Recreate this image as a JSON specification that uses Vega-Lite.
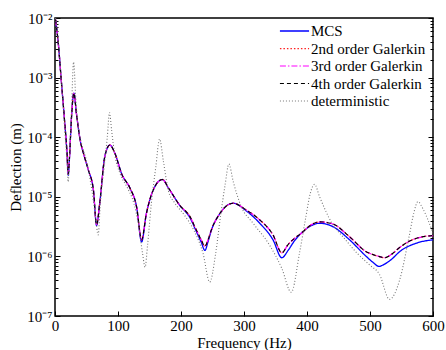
{
  "$schema": "https://vega.github.io/schema/vega-lite/v6.json",
  "width": 378,
  "height": 298,
  "autosize": "none",
  "padding": {"left": 55, "top": 18, "right": 13, "bottom": 34},
  "background": "white",
  "config": {
    "view": {"stroke": "#000", "strokeWidth": 1.5},
    "font": "Liberation Serif",
    "axis": {
      "labelFont": "Liberation Serif", "titleFont": "Liberation Serif",
      "labelFontSize": 15, "titleFontSize": 15, "titleFontWeight": "normal",
      "labelColor": "#000", "titleColor": "#000", "tickColor": "#000",
      "domain": false, "grid": false, "tickSize": -5, "labelFlush": false, "labelOverlap": false
    }
  },
  "resolve": {"axis": {"x": "independent", "y": "independent"}},
  "layer": [
    {
      "data": {"values": [
        {"f":1,"MCS":9.3e-3,"G2":9.3e-3,"G3":9.3e-3,"G4":9.3e-3},
        {"f":5,"MCS":3.98e-3,"G2":3.98e-3,"G3":3.98e-3,"G4":3.98e-3},
        {"f":10,"MCS":8.9e-4,"G2":8.9e-4,"G3":8.9e-4,"G4":8.9e-4},
        {"f":15,"MCS":2.0e-4,"G2":2.0e-4,"G3":2.0e-4,"G4":2.0e-4},
        {"f":19,"MCS":5.6e-5,"G2":5.6e-5,"G3":5.6e-5,"G4":5.6e-5},
        {"f":21,"MCS":2.3e-5,"G2":2.4e-5,"G3":2.4e-5,"G4":2.4e-5},
        {"f":23,"MCS":4.5e-5,"G2":4.5e-5,"G3":4.5e-5,"G4":4.5e-5},
        {"f":26,"MCS":2.0e-4,"G2":2.0e-4,"G3":2.0e-4,"G4":2.0e-4},
        {"f":30,"MCS":5.5e-4,"G2":5.5e-4,"G3":5.5e-4,"G4":5.5e-4},
        {"f":34,"MCS":2.5e-4,"G2":2.5e-4,"G3":2.5e-4,"G4":2.5e-4},
        {"f":40,"MCS":8.9e-5,"G2":8.9e-5,"G3":8.9e-5,"G4":8.9e-5},
        {"f":46,"MCS":5.0e-5,"G2":5.0e-5,"G3":5.0e-5,"G4":5.0e-5},
        {"f":53,"MCS":2.8e-5,"G2":2.8e-5,"G3":2.8e-5,"G4":2.8e-5},
        {"f":61,"MCS":1.29e-5,"G2":1.29e-5,"G3":1.29e-5,"G4":1.29e-5},
        {"f":66,"MCS":3.3e-6,"G2":3.4e-6,"G3":3.4e-6,"G4":3.4e-6},
        {"f":71,"MCS":7.8e-6,"G2":7.8e-6,"G3":7.8e-6,"G4":7.8e-6},
        {"f":79,"MCS":4.7e-5,"G2":4.7e-5,"G3":4.7e-5,"G4":4.7e-5},
        {"f":87,"MCS":7.4e-5,"G2":7.4e-5,"G3":7.4e-5,"G4":7.4e-5},
        {"f":95,"MCS":5.4e-5,"G2":5.4e-5,"G3":5.4e-5,"G4":5.4e-5},
        {"f":106,"MCS":2.4e-5,"G2":2.4e-5,"G3":2.4e-5,"G4":2.4e-5},
        {"f":119,"MCS":1.4e-5,"G2":1.4e-5,"G3":1.4e-5,"G4":1.4e-5},
        {"f":129.5,"MCS":6.8e-6,"G2":6.8e-6,"G3":6.8e-6,"G4":6.8e-6},
        {"f":137.5,"MCS":1.75e-6,"G2":1.9e-6,"G3":1.9e-6,"G4":1.9e-6},
        {"f":145,"MCS":5.2e-6,"G2":5.2e-6,"G3":5.2e-6,"G4":5.2e-6},
        {"f":150.5,"MCS":8.9e-6,"G2":8.9e-6,"G3":8.9e-6,"G4":8.9e-6},
        {"f":160,"MCS":1.58e-5,"G2":1.58e-5,"G3":1.58e-5,"G4":1.58e-5},
        {"f":170.6,"MCS":1.95e-5,"G2":1.95e-5,"G3":1.95e-5,"G4":1.95e-5},
        {"f":180,"MCS":1.41e-5,"G2":1.41e-5,"G3":1.41e-5,"G4":1.41e-5},
        {"f":198,"MCS":7.2e-6,"G2":7.2e-6,"G3":7.2e-6,"G4":7.2e-6},
        {"f":214,"MCS":4.5e-6,"G2":4.7e-6,"G3":4.7e-6,"G4":4.7e-6},
        {"f":224.5,"MCS":2.6e-6,"G2":2.75e-6,"G3":2.75e-6,"G4":2.75e-6},
        {"f":232,"MCS":1.74e-6,"G2":1.9e-6,"G3":1.9e-6,"G4":1.9e-6},
        {"f":238,"MCS":1.26e-6,"G2":1.48e-6,"G3":1.48e-6,"G4":1.48e-6},
        {"f":243,"MCS":1.78e-6,"G2":1.9e-6,"G3":1.9e-6,"G4":1.9e-6},
        {"f":248,"MCS":2.7e-6,"G2":2.75e-6,"G3":2.75e-6,"G4":2.75e-6},
        {"f":261.5,"MCS":5.2e-6,"G2":5.2e-6,"G3":5.2e-6,"G4":5.2e-6},
        {"f":282.6,"MCS":7.8e-6,"G2":7.8e-6,"G3":7.8e-6,"G4":7.8e-6},
        {"f":303.7,"MCS":5.8e-6,"G2":6.0e-6,"G3":6.0e-6,"G4":6.0e-6},
        {"f":325,"MCS":3.6e-6,"G2":4.1e-6,"G3":4.1e-6,"G4":4.1e-6},
        {"f":346,"MCS":1.9e-6,"G2":2.3e-6,"G3":2.3e-6,"G4":2.3e-6},
        {"f":360,"MCS":9.5e-7,"G2":1.15e-6,"G3":1.15e-6,"G4":1.15e-6},
        {"f":370,"MCS":1.26e-6,"G2":1.58e-6,"G3":1.58e-6,"G4":1.58e-6},
        {"f":380,"MCS":1.82e-6,"G2":2.0e-6,"G3":2.0e-6,"G4":2.0e-6},
        {"f":390,"MCS":2.4e-6,"G2":2.4e-6,"G3":2.4e-6,"G4":2.4e-6},
        {"f":405,"MCS":3.2e-6,"G2":3.3e-6,"G3":3.3e-6,"G4":3.3e-6},
        {"f":420,"MCS":3.6e-6,"G2":3.8e-6,"G3":3.8e-6,"G4":3.8e-6},
        {"f":441,"MCS":3.16e-6,"G2":3.5e-6,"G3":3.5e-6,"G4":3.5e-6},
        {"f":467.5,"MCS":1.9e-6,"G2":2.14e-6,"G3":2.14e-6,"G4":2.14e-6},
        {"f":494,"MCS":1.0e-6,"G2":1.2e-6,"G3":1.2e-6,"G4":1.2e-6},
        {"f":505,"MCS":7.9e-7,"G2":1.07e-6,"G3":1.07e-6,"G4":1.07e-6},
        {"f":514,"MCS":6.8e-7,"G2":1.0e-6,"G3":1.0e-6,"G4":1.0e-6},
        {"f":523,"MCS":7.4e-7,"G2":9.5e-7,"G3":9.5e-7,"G4":9.5e-7},
        {"f":535,"MCS":9.1e-7,"G2":1.1e-6,"G3":1.1e-6,"G4":1.1e-6},
        {"f":547,"MCS":1.2e-6,"G2":1.41e-6,"G3":1.41e-6,"G4":1.41e-6},
        {"f":573,"MCS":1.66e-6,"G2":2.0e-6,"G3":2.0e-6,"G4":2.0e-6},
        {"f":600,"MCS":1.9e-6,"G2":2.24e-6,"G3":2.24e-6,"G4":2.24e-6}
      ]},
      "transform": [{"fold": ["MCS", "G2", "G3", "G4"], "as": ["s", "v"]}],
      "mark": {"type": "line", "interpolate": "monotone", "clip": true},
      "encoding": {
        "x": {"field": "f", "type": "quantitative", "scale": {"domain": [0, 600], "nice": false},
              "axis": {"orient": "bottom", "values": [0,100,200,300,400,500,600], "title": "Frequency (Hz)", "labelPadding": 7, "titlePadding": 2}},
        "y": {"field": "v", "type": "quantitative", "scale": {"type": "log", "domain": [1e-7, 1e-2], "nice": false},
              "axis": {"orient": "left", "values": [1e-7,1e-6,1e-5,1e-4,1e-3,1e-2], "title": "Deflection (m)", "labelPadding": 8, "titlePadding": 3,
                       "labelExpr": "'10' + ['⁻⁷','⁻⁶','⁻⁵','⁻⁴','⁻³','⁻²'][round(log(datum.value)/LN10)+7]"}},
        "color": {"field": "s", "type": "nominal",
                  "scale": {"domain": ["MCS","G2","G3","G4","det"], "range": ["#0000ff","#ff2020","#ff00ff","#000000","#777777"]},
                  "legend": {"orient": "none", "legendX": 224, "legendY": 5, "title": null, "symbolType": "stroke", "symbolSize": 850,
                             "labelFont": "Liberation Serif", "labelFontSize": 15, "labelColor": "#000", "labelOffset": 1, "clipHeight": 16, "rowPadding": 1.5,
                             "labelExpr": "{'MCS':'MCS','G2':'2nd order Galerkin','G3':'3rd order Galerkin','G4':'4th order Galerkin','det':'deterministic'}[datum.label]"}},
        "strokeDash": {"field": "s", "type": "nominal",
                  "scale": {"domain": ["MCS","G2","G3","G4","det"], "range": [[1,0],[1.5,2],[6,2,1.5,2],[4,3],[1,2]]}},
        "strokeWidth": {"field": "s", "type": "nominal",
                  "scale": {"domain": ["MCS","G2","G3","G4","det"], "range": [1.3,1.1,1.3,1.3,0.9]}}
      }
    },
    {
      "data": {"values": [
        {"f":1,"det":1.0e-2},{"f":5,"det":4.47e-3},{"f":10,"det":8.9e-4},{"f":15,"det":1.58e-4},
        {"f":19,"det":3.98e-5},{"f":21,"det":1.78e-5},{"f":23,"det":5.0e-5},{"f":26,"det":2.5e-4},
        {"f":29.5,"det":1.82e-3},{"f":33,"det":4.47e-4},{"f":37,"det":1.41e-4},{"f":42,"det":7.9e-5},
        {"f":50,"det":3.98e-5},{"f":58,"det":1.41e-5},{"f":64,"det":5.0e-6},{"f":68.5,"det":2.3e-6},
        {"f":72,"det":7.9e-6},{"f":78,"det":3.16e-5},{"f":83,"det":1.0e-4},{"f":86.5,"det":2.6e-4},
        {"f":90,"det":1.26e-4},{"f":95,"det":5.0e-5},{"f":103,"det":2.5e-5},{"f":115,"det":1.41e-5},
        {"f":125,"det":7.9e-6},{"f":133,"det":3.16e-6},{"f":139,"det":1.12e-6},{"f":143,"det":6.6e-7},
        {"f":147,"det":1.58e-6},{"f":153,"det":7.9e-6},{"f":160,"det":3.16e-5},{"f":166,"det":9.3e-5},
        {"f":172,"det":3.98e-5},{"f":180,"det":1.26e-5},{"f":190,"det":7.9e-6},{"f":205,"det":5.0e-6},
        {"f":220,"det":2.8e-6},{"f":235,"det":1.12e-6},{"f":245.6,"det":3.7e-7},{"f":255,"det":1.12e-6},
        {"f":263,"det":5.0e-6},{"f":270,"det":1.58e-5},{"f":276,"det":3.55e-5},{"f":283,"det":1.78e-5},
        {"f":295,"det":7.1e-6},{"f":315,"det":3.55e-6},{"f":340,"det":1.58e-6},{"f":360,"det":6.3e-7},
        {"f":375,"det":2.5e-7},{"f":388,"det":1.12e-6},{"f":398,"det":4.47e-6},{"f":405,"det":1.12e-5},
        {"f":412,"det":1.62e-5},{"f":420,"det":1.0e-5},{"f":440,"det":3.55e-6},{"f":457,"det":2.14e-6},
        {"f":480,"det":1.12e-6},{"f":500,"det":7.1e-7},{"f":515,"det":5.0e-7},{"f":531,"det":1.9e-7},
        {"f":547,"det":4.0e-7},{"f":562,"det":2.14e-6},{"f":570,"det":5.6e-6},{"f":576,"det":8.3e-6},
        {"f":584,"det":6.3e-6},{"f":592,"det":4.1e-6},{"f":600,"det":2.45e-6}
      ]},
      "transform": [{"fold": ["det"], "as": ["s", "v"]}],
      "layer": [
        {
          "mark": {"type": "line", "interpolate": "monotone", "clip": true},
          "encoding": {
            "x": {"field": "f", "type": "quantitative", "scale": {"domain": [0, 600], "nice": false},
                  "axis": {"orient": "top", "values": [0,100,200,300,400,500,600], "labels": false, "title": null}},
            "y": {"field": "v", "type": "quantitative", "scale": {"type": "log", "domain": [1e-7, 1e-2], "nice": false},
                  "axis": {"orient": "right", "values": [1e-7,1e-6,1e-5,1e-4,1e-3,1e-2], "labels": false, "title": null}},
            "color": {"field": "s", "type": "nominal"},
            "strokeDash": {"field": "s", "type": "nominal"},
            "strokeWidth": {"field": "s", "type": "nominal"}
          }
        },
        {
          "mark": {"type": "line", "opacity": 0},
          "encoding": {
            "x": {"field": "f", "type": "quantitative", "axis": null},
            "y": {"field": "v", "type": "quantitative",
                  "axis": {"orient": "left", "labels": false, "title": null, "tickSize": -3,
                           "values": [2e-7,3e-7,4e-7,5e-7,6e-7,7e-7,8e-7,9e-7,2e-6,3e-6,4e-6,5e-6,6e-6,7e-6,8e-6,9e-6,2e-5,3e-5,4e-5,5e-5,6e-5,7e-5,8e-5,9e-5,2e-4,3e-4,4e-4,5e-4,6e-4,7e-4,8e-4,9e-4,2e-3,3e-3,4e-3,5e-3,6e-3,7e-3,8e-3,9e-3]}}
          }
        },
        {
          "mark": {"type": "line", "opacity": 0},
          "encoding": {
            "x": {"field": "f", "type": "quantitative", "axis": null},
            "y": {"field": "v", "type": "quantitative",
                  "axis": {"orient": "right", "labels": false, "title": null, "tickSize": -3,
                           "values": [2e-7,3e-7,4e-7,5e-7,6e-7,7e-7,8e-7,9e-7,2e-6,3e-6,4e-6,5e-6,6e-6,7e-6,8e-6,9e-6,2e-5,3e-5,4e-5,5e-5,6e-5,7e-5,8e-5,9e-5,2e-4,3e-4,4e-4,5e-4,6e-4,7e-4,8e-4,9e-4,2e-3,3e-3,4e-3,5e-3,6e-3,7e-3,8e-3,9e-3]}}
          }
        }
      ]
    }
  ]
}
